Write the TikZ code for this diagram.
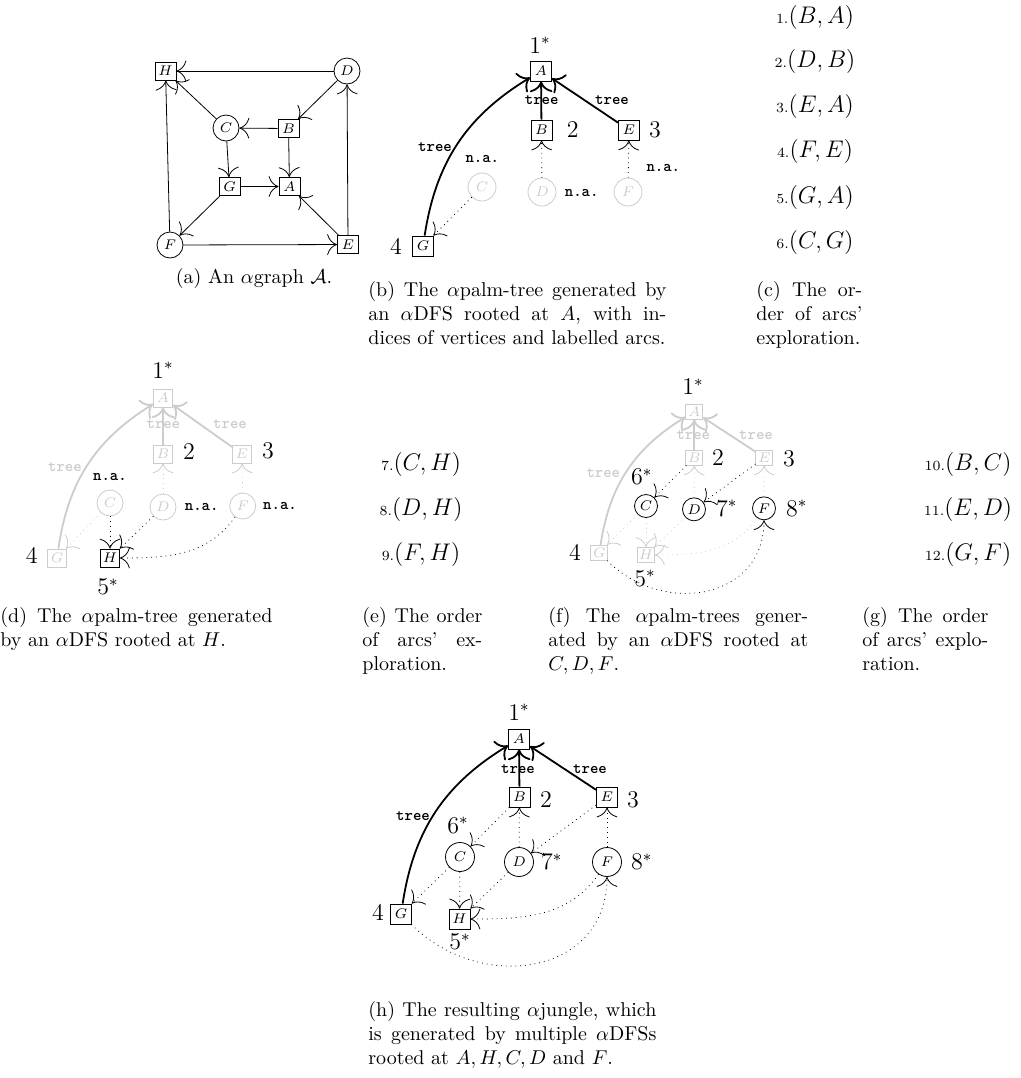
\documentclass[tikz,border=0pt]{standalone}
\usepackage{amssymb}
\usetikzlibrary{arrows.meta}
\tikzset{vsq/.style={draw,rectangle,inner sep=0pt,font=\scriptsize}}
\tikzset{vci/.style={draw,circle,inner sep=0pt,font=\scriptsize}}
\tikzset{faded/.style={black!20}}
\tikzset{treearc/.style={-{To[scale=1.5]},line width=.9pt}}
\tikzset{frond/.style={->,dotted}}
\tikzset{arclbl/.style={font=\footnotesize\ttfamily\bfseries,inner sep=0pt}}
\tikzset{idx/.style={font=\large,inner sep=0pt}}
\tikzset{arcitem/.style={font=\large,inner sep=0pt}}
\tikzset{captxt/.style={anchor=north west,inner sep=0pt,align=justify}}
\begin{document}
\begin{tikzpicture}[x=.5pt,y=.5pt,>={To[scale=2]}]
\useasboundingbox (0,0) rectangle (1021,-1078);
% (a) the graph
\begin{scope}[vsq/.append style={minimum width=10.5pt,minimum height=9pt},vci/.append style={minimum size=13pt}]
\node[vsq](aH)at(165.5,-71){$H$};\node[vci](aD)at(347,-71){$D$};
\node[vci](aC)at(226,-128){$C$};\node[vsq](aB)at(288.5,-128.5){$B$};
\node[vsq](aG)at(229.5,-186.5){$G$};\node[vsq](aA)at(289.5,-186.5){$A$};
\node[vci](aF)at(170,-245){$F$};\node[vsq](aE)at(348,-244.5){$E$};
\foreach \s/\t in {D/H,D/B,B/C,B/A,C/H,C/G,G/A,G/F,F/H,F/E,E/A,E/D}\draw[->](a\s)--(a\t);
\node(acap)at(254,-278){(a) An $\alpha$graph $\mathcal{A}$.};
\end{scope}
% (b) palm-tree rooted at A
\begin{scope}[vsq/.append style={minimum width=10.5pt,minimum height=10pt},vci/.append style={minimum size=14pt}]
\node[vsq](bA)at(541,-71){$A$};\node[vsq](bB)at(541.5,-130){$B$};\node[vsq](bE)at(629,-130){$E$};
\node[vci,faded](bC)at(482,-187){$C$};\node[vci,faded](bD)at(542,-192){$D$};\node[vci,faded](bF)at(628,-192){$F$};
\node[vsq](bG)at(423,-246){$G$};
\draw[treearc](bB)--(bA);\draw[treearc](bE)--(bA);\draw[treearc](bG)to[bend left=25](bA);
\draw[frond](bD)--(bB);\draw[frond](bF)--(bE);\draw[frond](bC)--(bG);
\node[idx](bi1)at(540,-45){$1^*$};\node[idx](bi2)at(572.7,-130){$2$};
\node[idx](bi3)at(655,-130){$3$};\node[idx](bi4)at(396,-246.7){$4$};
\node[arclbl](bt1)at(541.7,-100){tree};\node[arclbl](bt2)at(612,-100){tree};\node[arclbl](bt3)at(435,-147){tree};
\node[arclbl](bn1)at(482.3,-159.3){n.a.};\node[arclbl](bn2)at(581.7,-192.7){n.a.};\node[arclbl](bn3)at(663.3,-168.3){n.a.};
\node[captxt,text width=149pt](bcap)at(368,-281){(b) The $\alpha$palm-tree generated by\linebreak an $\alpha$DFS rooted at $A$, with in-\linebreak dices of vertices and labelled arcs.};
\end{scope}
% (c) order of exploration
\foreach \n/\u/\v/\y in {1/B/A/17,2/D/B/61,3/E/A/106,4/F/E/151,5/G/A/197,6/C/G/242}
  \node[arcitem](c\n)at(815,-\y){{\scriptsize\n.}$(\u,\v)$};
\node[captxt,text width=53pt](ccap)at(756,-281){(c) The or-\linebreak der of arcs'\linebreak exploration.};
% (d) palm-tree rooted at H
\begin{scope}[vsq/.append style={minimum width=9.5pt,minimum height=9pt},vci/.append style={minimum size=13pt}]
\node[vsq,faded](dA)at(163,-398){$A$};\node[vsq,faded](dB)at(163,-454){$B$};\node[vsq,faded](dE)at(242,-454){$E$};
\node[vci,faded](dC)at(110,-503){$C$};\node[vci,faded](dD)at(163,-507){$D$};\node[vci,faded](dF)at(242.7,-506){$F$};
\node[vsq,faded](dG)at(57,-558){$G$};\node[vsq](dH)at(110,-558){$H$};
\draw[treearc,faded](dB)--(dA);\draw[treearc,faded](dE)--(dA);\draw[treearc,faded](dG)to[bend left=25](dA);
\draw[frond,faded](dD)--(dB);\draw[frond,faded](dF)--(dE);\draw[frond,faded](dC)--(dG);
\draw[frond](dC)--(dH);\draw[frond](dD)--(dH);\draw[frond](dF)to[out=-125,in=0](dH);
\node[idx](di1)at(163,-370){$1^*$};\node[idx](di2)at(189,-451.7){$2$};\node[idx](di3)at(268,-450.7){$3$};
\node[idx](di4)at(31.7,-556){$4$};\node[idx](di5)at(108,-586.7){$5^*$};
\node[arclbl,faded](dt1)at(163.3,-424.3){tree};\node[arclbl,faded](dt2)at(230,-424.3){tree};\node[arclbl,faded](dt3)at(65,-466.7){tree};
\node[arclbl](dn1)at(110,-476.7){n.a.};\node[arclbl](dn2)at(201.7,-507.3){n.a.};\node[arclbl](dn3)at(280,-506){n.a.};
\node[captxt,text width=136pt](dcap)at(0,-607){(d) The $\alpha$palm-tree generated\linebreak by an $\alpha$DFS rooted at $H$.};
\end{scope}
% (e) order of exploration
\foreach \n/\u/\v/\y in {7/C/H/464,8/D/H/509,9/F/H/554}
  \node[arcitem](e\n)at(421,-\y){{\scriptsize\n.}$(\u,\v)$};
\node[captxt,text width=60pt](ecap)at(362,-607){(e) The order\linebreak of arcs' ex-\linebreak ploration.};
% (f) palm-trees rooted at C, D, F
\begin{scope}[vsq/.append style={minimum width=8.5pt,minimum height=7.5pt},vci/.append style={minimum size=11.5pt}]
\node[vsq,faded](fA)at(694.3,-411.7){$A$};\node[vsq,faded](fB)at(694.3,-457.5){$B$};\node[vsq,faded](fE)at(764.3,-457.5){$E$};
\node[vci](fC)at(646,-506){$C$};\node[vci](fD)at(694,-509.3){$D$};\node[vci](fF)at(764,-508.3){$F$};
\node[vsq,faded](fG)at(599.3,-552.7){$G$};\node[vsq,faded](fH)at(646,-555){$H$};
\draw[treearc,faded](fB)--(fA);\draw[treearc,faded](fE)--(fA);\draw[treearc,faded](fG)to[bend left=25](fA);
\draw[frond,faded](fD)--(fB);\draw[frond,faded](fF)--(fE);\draw[frond,faded](fC)--(fG);
\draw[frond,faded](fC)--(fH);\draw[frond,faded](fD)--(fH);\draw[frond,faded](fF)to[out=-125,in=0](fH);
\draw[frond](fB)--(fC);\draw[frond](fE)--(fD);\draw[frond](fG)to[out=-45,in=-90,looseness=1.25](fF);
\node[idx](fi1)at(693,-386.7){$1^*$};\node[idx](fi2)at(718,-458){$2$};\node[idx](fi3)at(789,-459){$3$};
\node[idx](fi6)at(641.7,-476.7){$6^*$};\node[idx](fi7)at(726.7,-508.3){$7^*$};\node[idx](fi8)at(796.7,-508.3){$8^*$};
\node[idx](fi4)at(575,-552.7){$4$};\node[idx](fi5)at(645,-578.3){$5^*$};
\node[arclbl,faded](ft1)at(693.3,-435){tree};\node[arclbl,faded](ft2)at(756,-435){tree};\node[arclbl,faded](ft3)at(603.3,-473.3){tree};
\node[captxt,text width=130pt](fcap)at(548,-607){(f) The $\alpha$palm-trees gener-\linebreak ated by an $\alpha$DFS rooted at\linebreak $C,D,F$.};
\end{scope}
% (g) order of exploration
\foreach \n/\u/\v/\y in {10/B/C/464,11/E/D/509,12/G/F/554}
  \node[arcitem](g\n)at(968,-\y){{\scriptsize\n.}$(\u,\v)$};
\node[captxt,text width=63pt](gcap)at(862,-607){(g) The order\linebreak of arcs' explo-\linebreak ration.};
% (h) the resulting jungle
\begin{scope}[vsq/.append style={minimum width=10.5pt,minimum height=10pt},vci/.append style={minimum size=14.5pt}]
\node[vsq](hA)at(519,-739){$A$};\node[vsq](hB)at(519.5,-797){$B$};\node[vsq](hE)at(607,-797){$E$};
\node[vci](hC)at(460,-857){$C$};\node[vci](hD)at(519,-862){$D$};\node[vci](hF)at(607,-862){$F$};
\node[vsq](hG)at(401,-914){$G$};\node[vsq](hH)at(459.5,-919){$H$};
\draw[treearc](hB)--(hA);\draw[treearc](hE)--(hA);\draw[treearc](hG)to[bend left=25](hA);
\draw[frond](hD)--(hB);\draw[frond](hF)--(hE);\draw[frond](hC)--(hG);
\draw[frond](hC)--(hH);\draw[frond](hD)--(hH);\draw[frond](hF)to[out=-125,in=0](hH);
\draw[frond](hB)--(hC);\draw[frond](hE)--(hD);\draw[frond](hG)to[out=-45,in=-90,looseness=1.25](hF);
\node[idx](hi1)at(519,-712){$1^*$};\node[idx](hi2)at(546,-800){$2$};\node[idx](hi3)at(633,-800){$3$};
\node[idx](hi6)at(458,-825){$6^*$};\node[idx](hi7)at(551.7,-861.7){$7^*$};\node[idx](hi8)at(641.7,-861.7){$8^*$};
\node[idx](hi4)at(378,-913){$4$};\node[idx](hi5)at(460,-941.7){$5^*$};
\node[arclbl](ht1)at(518,-769){tree};\node[arclbl](ht2)at(590,-769){tree};\node[arclbl](ht3)at(413,-816){tree};
\node[captxt,text width=144pt](hcap)at(368,-1001){(h) The resulting $\alpha$jungle, which\linebreak is generated by multiple $\alpha$DFSs\linebreak rooted at $A,H,C,D$ and $F$.};
\end{scope}
\end{tikzpicture}
\end{document}
